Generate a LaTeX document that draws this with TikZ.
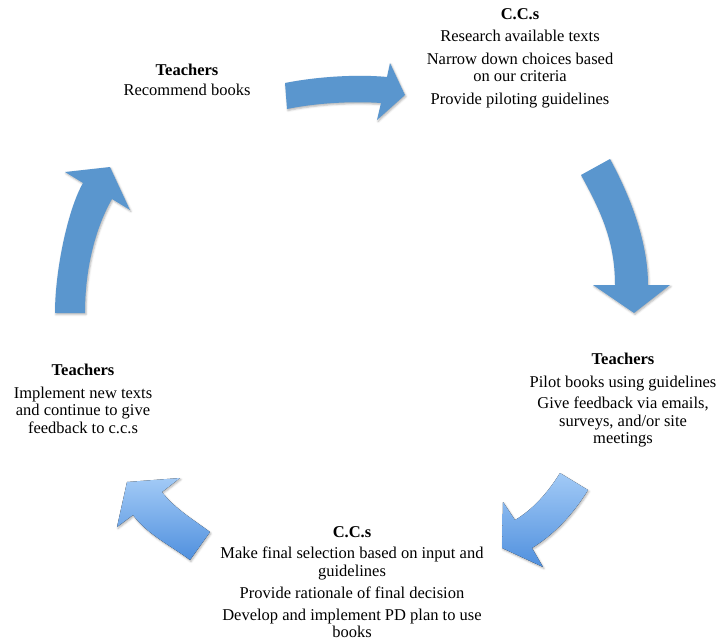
\documentclass[tikz,border=0pt]{standalone}
\usepackage{fontspec}
\setmainfont{Liberation Serif}
\usetikzlibrary{shadows.blur}
\definecolor{cycleblue}{RGB}{90,150,206}
\definecolor{cyclelight}{RGB}{162,202,246}
\definecolor{cycledeep}{RGB}{80,144,222}
\begin{document}
\begin{tikzpicture}[x=1pt,y=-1pt,
  softshadow/.style={blur shadow={shadow xshift=1pt,shadow yshift=-1.5pt,shadow blur radius=2pt,shadow opacity=30}},
  flowarrow/.style={fill=cycleblue,draw=none,softshadow},
  fadearrow/.style={top color=cyclelight,bottom color=cycledeep,draw=none,softshadow},
  stage/.style={align=center,inner sep=0pt,anchor=north,font=\fontsize{16.5}{17.5}\selectfont},
  ]
\useasboundingbox (0,0) rectangle (717,642);

% stage texts
\node[stage] (recommend) at (187,64.3) {\textbf{Teachers}\\[2.5pt]Recommend books};
\node[stage] (research) at (520,8.3) {\textbf{C.C.s}\\[5pt]Research available texts\\[5pt]Narrow down choices based\\on our criteria\\[5pt]Provide piloting guidelines};
\node[stage] (pilot) at (623,353.3) {\textbf{Teachers}\\[5pt]Pilot books using guidelines\\[4pt]Give feedback via emails,\\surveys, and/or site\\meetings};
\node[stage] (select) at (352,526.3) {\textbf{C.C.s}\\[4pt]Make final selection based on input and\\guidelines\\[4.5pt]Provide rationale of final decision\\[4.5pt]Develop and implement PD plan to use\\books};
\node[stage] (implement) at (83,364.3) {\textbf{Teachers}\\[5pt]Implement new texts\\and continue to give\\feedback to c.c.s};

% cycle arrows
\fill[flowarrow] (285,83) .. controls (315,77) and (355,74) .. (387,77) -- (390,63) -- (405,95) -- (377,120) -- (381,103) .. controls (352,101) and (316,103) .. (287,109) -- cycle;
\fill[flowarrow] (610,159) .. controls (629,194) and (648,240) .. (648,285) -- (670,285) -- (634,313) -- (593,285) -- (615,285) .. controls (615,240) and (600,210) .. (581,175) -- cycle;
\fill[fadearrow] (588,490) .. controls (572,516) and (553,535) .. (532,548) -- (543,567) -- (502,548) -- (503,502) -- (515,520) .. controls (532,510) and (547,494) .. (560,473) -- cycle;
\fill[fadearrow] (210,532) .. controls (194,520) and (174,508) .. (162,492) -- (180,478) -- (127,482) -- (117,527) -- (133,515) .. controls (148,535) and (170,545) .. (190,560) -- cycle;
\fill[flowarrow] (55,313) .. controls (55,270) and (68,209) .. (83,183) -- (65,172) -- (110,167) -- (130,210) -- (112,199) .. controls (97,225) and (85,265) .. (85,313) -- cycle;
\end{tikzpicture}
\end{document}
